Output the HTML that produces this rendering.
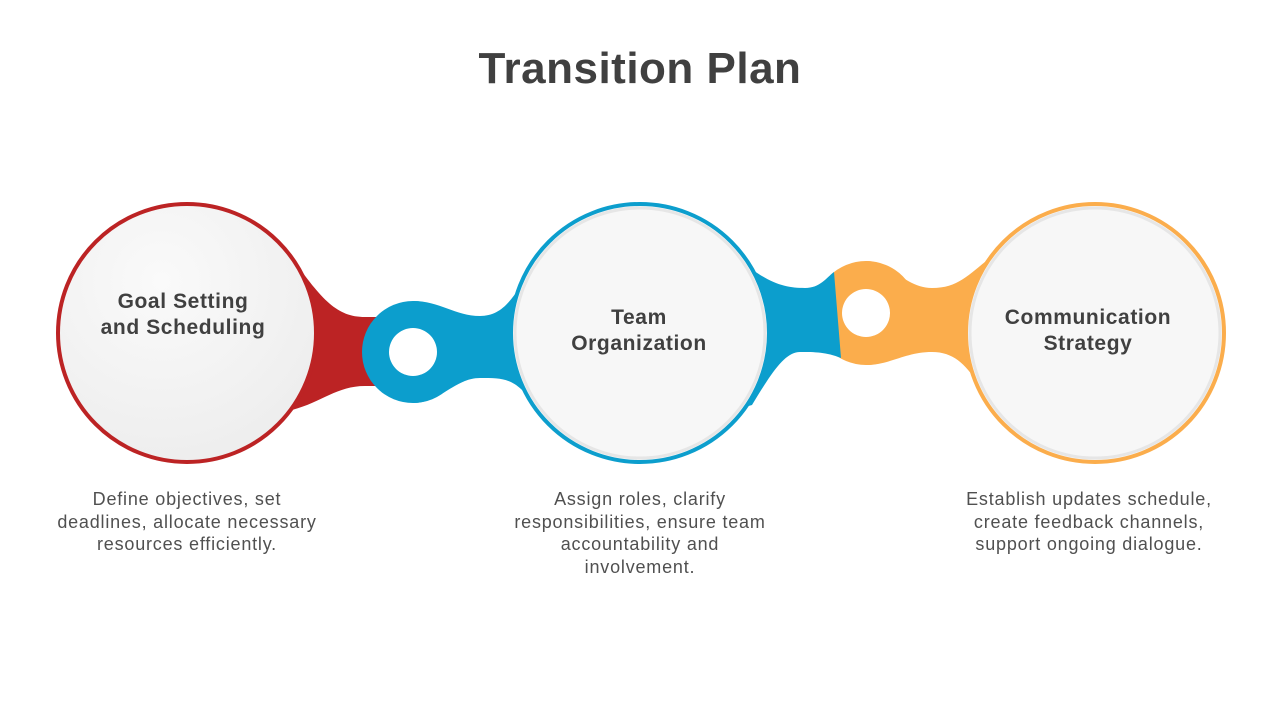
<!DOCTYPE html>
<html><head><meta charset="utf-8"><style>
body{margin:0;width:1280px;height:720px;background:#fff;font-family:"Liberation Sans",sans-serif;overflow:hidden;position:relative}
.t{position:absolute;text-align:center;color:#404040}
h1{position:absolute;left:0;width:1280px;top:44px;margin:0;text-align:center;font-size:44px;font-weight:bold;color:#404040;letter-spacing:0.5px}
.lab{font-weight:bold;font-size:21px;line-height:26px;width:260px;letter-spacing:0.6px}
.d{font-size:18px;line-height:22.5px;color:#505050;letter-spacing:0.8px}
</style></head><body>
<h1>Transition Plan</h1>
<svg width="1280" height="720" style="position:absolute;left:0;top:0">
<defs>
<radialGradient id="g" cx="0.4" cy="0.3" r="0.8"><stop offset="0" stop-color="#fafafa"/><stop offset="1" stop-color="#ececec"/></radialGradient>
</defs>
<path d="M240,230 L292,258 C322,300 337,317 365,317 L405,317 L405,386 L365,386 C337,386 322,402 292,410 L240,430 Z" fill="#bc2324"/>
<circle cx="413" cy="352" r="51" fill="#0c9ecd"/>
<path d="M413,301 C440,301 455,316 480,316 C505,316 515,295 535,262 L600,250 L600,420 L535,405 C515,378 505,378 480,378 C455,378 440,403 413,403 Z" fill="#0c9ecd"/>
<circle cx="413" cy="352" r="24" fill="#fff"/>
<circle cx="866" cy="313" r="52" fill="#fbad4c"/>
<path d="M866,261 C890,261 905,288 932,288 C958,288 968,275 990,258 L1040,250 L1040,420 L985,395 C970,370 958,352 932,352 C905,352 890,365 866,365 Z" fill="#fbad4c"/>
<path d="M700,250 L742,262 C770,284 785,288 805,288 C820,288 826,278 834,272 L841,358 C826,352 815,352 800,352 C785,352 772,372 752,405 L700,420 Z" fill="#0c9ecd"/>
<circle cx="866" cy="313" r="24" fill="#fff"/>
<circle cx="187" cy="333" r="129" fill="url(#g)" stroke="#bc2324" stroke-width="4"/>
<circle cx="640" cy="333" r="129" fill="#f7f7f7" stroke="#0c9ecd" stroke-width="4"/>
<circle cx="640" cy="333" r="125" fill="none" stroke="#e6e6e6" stroke-width="3"/>
<circle cx="1095" cy="333" r="129" fill="#f7f7f7" stroke="#fbad4c" stroke-width="4"/>
<circle cx="1095" cy="333" r="125" fill="none" stroke="#e6e6e6" stroke-width="3"/>
</svg>
<div class="t lab" style="left:53px;top:289px">Goal Setting<br>and Scheduling</div>
<div class="t lab" style="left:509px;top:305px">Team<br>Organization</div>
<div class="t lab" style="left:958px;top:305px">Communication<br>Strategy</div>
<div class="t d" style="left:27px;top:488px;width:320px">Define objectives, set<br>deadlines, allocate necessary<br>resources efficiently.</div>
<div class="t d" style="left:480px;top:488px;width:320px">Assign roles, clarify<br>responsibilities, ensure team<br>accountability and<br>involvement.</div>
<div class="t d" style="left:929px;top:488px;width:320px">Establish updates schedule,<br>create feedback channels,<br>support ongoing dialogue.</div>
</body></html>
